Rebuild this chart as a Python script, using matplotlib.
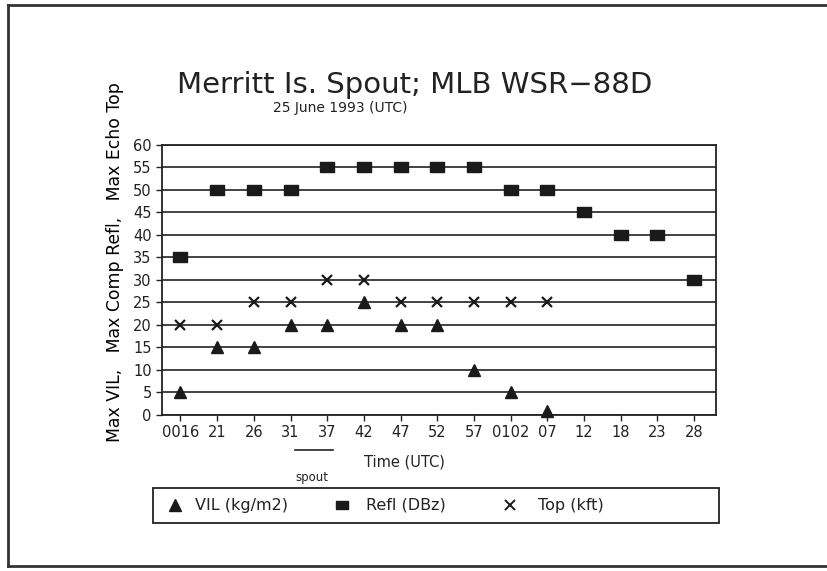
import numpy as np
import matplotlib
matplotlib.use("Agg")
import matplotlib.pyplot as plt
from matplotlib.patches import Rectangle
from matplotlib.lines import Line2D

times = ["0016", "21", "26", "31", "37", "42", "47", "52", "57", "0102", "07", "12", "18", "23", "28"]
vil = [5, 15, 15, 20, 20, 25, 20, 20, 10, 5, 1, np.nan, np.nan, np.nan, np.nan]
refl = [35, 50, 50, 50, 55, 55, 55, 55, 55, 50, 50, 45, 40, 40, 30]
top = [20, 20, 25, 25, 30, 30, 25, 25, 25, 25, 25, np.nan, np.nan, np.nan, np.nan]
yticks = list(range(0, 65, 5))

plt.rcParams['font.family'] = ['DejaVu Sans']
fig = plt.figure(figsize=(8.27, 5.71), dpi=100)
ax = fig.add_axes([0.196, 0.2732, 0.670, 0.473])

rect_marker = [(-1.35, -1), (1.35, -1), (1.35, 1), (-1.35, 1), (-1.35, -1)]
ink = '#1a1a1a'

x = np.arange(len(times))
ax.plot(x, vil, linestyle='none', marker='^', color=ink, markersize=9, clip_on=False, zorder=3)
ax.plot(x, refl, linestyle='none', marker=rect_marker, color=ink, markersize=10, zorder=3)
ax.plot(x, top, linestyle='none', marker='x', color=ink, markersize=7, markeredgewidth=1.6, zorder=3)

ax.set_xlim(-0.5, 14.6)
ax.set_ylim(0, 60)
ax.set_yticks(yticks)
ax.set_yticklabels([str(v) for v in yticks], fontsize=10.5)
ax.set_xticks(x)
ax.set_xticklabels(times, fontsize=10.5)
ax.yaxis.grid(True, color='#222222', linewidth=1.2)
ax.set_axisbelow(True)
ax.tick_params(direction='out', length=4, width=1, colors='#222222')
for s in ax.spines.values():
    s.set_color('#222222')
    s.set_linewidth(1.3)

ax.set_ylabel("Max VIL,   Max Comp Refl,   Max Echo Top", fontsize=12.4)
ax.yaxis.set_label_coords(-0.068, 0.567)

fig.text(0.502, 0.851, "Merritt Is. Spout; MLB WSR\u221288D", ha='center', va='center', fontsize=21, color='#222222')
fig.text(0.411, 0.81, "25 June 1993 (UTC)", ha='center', va='center', fontsize=10, color='#222222')
fig.text(0.489, 0.191, "Time (UTC)", ha='center', va='center', fontsize=10.5, color='#222222')
fig.text(0.377, 0.163, "spout", ha='center', va='center', fontsize=8.5, color='#222222')
fig.add_artist(Line2D([0.357, 0.403], [0.212, 0.212], color='#222222', linewidth=1.2))

# Legend box
fig.add_artist(Rectangle((0.185, 0.084), 0.684, 0.0613, fill=False, edgecolor='#222222', linewidth=1.3, transform=fig.transFigure))
handles = [
    Line2D([], [], linestyle='none', marker='^', color=ink, markersize=9),
    Line2D([], [], linestyle='none', marker=rect_marker, color=ink, markersize=8),
    Line2D([], [], linestyle='none', marker='x', color=ink, markersize=7, markeredgewidth=1.4),
]
labels = ["VIL (kg/m2)", "Refl (DBz)", "Top (kft)"]
leg_x = [0.212, 0.413, 0.617]
text_x = [0.236, 0.443, 0.651]
for h, lab, lx, tx in zip(handles, labels, leg_x, text_x):
    fig.add_artist(Line2D([lx], [0.115], linestyle='none', marker=h.get_marker(), color=ink,
                          markersize=h.get_markersize(), markeredgewidth=h.get_markeredgewidth()))
    fig.text(tx, 0.115, lab, ha='left', va='center', fontsize=11.5, color='#222222')

# Outer frame
fig.add_artist(Line2D([0.010, 0.010], [0.008, 0.991], color='#333333', linewidth=2))
fig.add_artist(Line2D([0.010, 1.0], [0.991, 0.991], color='#333333', linewidth=2))
fig.add_artist(Line2D([0.010, 1.0], [0.008, 0.008], color='#333333', linewidth=2))

fig.savefig("out.png", dpi=100)
